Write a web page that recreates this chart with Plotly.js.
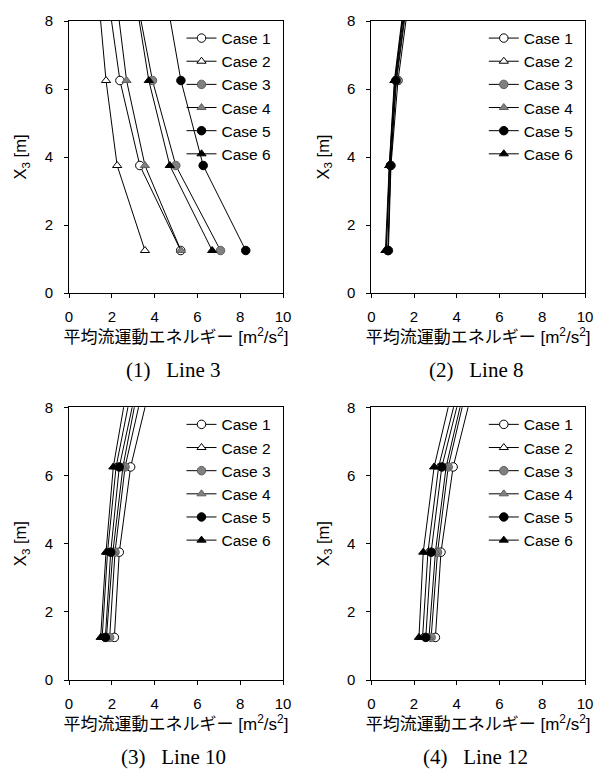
<!DOCTYPE html>
<html>
<head>
<meta charset="utf-8">
<script src="https://cdn.plot.ly/plotly-3.0.1.min.js"></script>
<style>html,body{margin:0;padding:0;background:#fff;}#chart{width:596px;height:769px;}</style>
</head>
<body>
<div id="chart"></div>
<script>
// Heights of measurement points [m] (last point lies above the visible range)
const HEIGHTS = [1.25, 3.75, 6.25, 8.75];
const CASE_NAMES = ['Case 1', 'Case 2', 'Case 3', 'Case 4', 'Case 5', 'Case 6'];
const PANEL_CAPTIONS = ['(1)\u00a0\u00a0\u00a0Line 3', '(2)\u00a0\u00a0\u00a0Line 8', '(3)\u00a0\u00a0\u00a0Line 10', '(4)\u00a0\u00a0\u00a0Line 12'];
const X_TICKS = [0, 2, 4, 6, 8, 10];
const Y_TICKS = [0, 2, 4, 6, 8];

// Mean-flow kinetic energy [m2/s2] per case, at HEIGHTS
const LINE3 = [
  [5.22, 3.31, 2.38, 1.82],
  [3.55, 2.25, 1.73, 1.37],
  [7.08, 4.99, 3.90, 3.14],
  [5.23, 3.55, 2.69, 2.20],
  [8.26, 6.27, 5.23, 4.53],
  [6.69, 4.71, 3.73, 3.09]
];
const LINE8 = [
  [0.80, 0.92, 1.25, 1.78],
  [0.70, 0.85, 1.10, 1.60],
  [0.78, 0.90, 1.18, 1.71],
  [0.70, 0.86, 1.12, 1.63],
  [0.78, 0.90, 1.15, 1.68],
  [0.66, 0.84, 1.08, 1.57]
];
const LINE10 = [
  [2.12, 2.35, 2.88, 3.84],
  [1.55, 1.80, 2.20, 2.99],
  [1.90, 2.15, 2.62, 3.52],
  [1.75, 2.05, 2.52, 3.28],
  [1.70, 1.95, 2.35, 3.21],
  [1.48, 1.73, 2.07, 2.76]
];
const LINE12 = [
  [3.00, 3.26, 3.83, 4.83],
  [2.40, 2.65, 3.15, 4.15],
  [2.80, 3.10, 3.60, 4.53],
  [2.70, 3.00, 3.50, 4.43],
  [2.55, 2.80, 3.30, 4.30],
  [2.23, 2.43, 2.94, 3.88]
];
const PANELS = [LINE3, LINE8, LINE10, LINE12];

// styles
const W = 596, H = 769;
const SANS = 'Liberation Sans, Arial, Noto Sans CJK JP, sans-serif';
const SERIF = 'Liberation Serif, Times New Roman, serif';
const MARKERS = [
  {symbol: 'circle', color: '#ffffff', line: {color: '#000000', width: 1}, size: 8.5},
  {symbol: 'triangle-up', color: '#ffffff', line: {color: '#000000', width: 1}, size: 8},
  {symbol: 'circle', color: '#808080', line: {color: '#606060', width: 1}, size: 8.5},
  {symbol: 'triangle-up', color: '#808080', line: {color: '#606060', width: 1}, size: 8},
  {symbol: 'circle', color: '#000000', line: {color: '#000000', width: 1}, size: 8.5},
  {symbol: 'triangle-up', color: '#000000', line: {color: '#000000', width: 1}, size: 8}
];
// plot boxes in pixels: [left, right, top, bottom]
const BOXES = [
  [69, 283, 21, 293],
  [371.3, 585, 21, 293],
  [69, 283, 407.3, 680],
  [371.3, 585, 407.3, 680]
];

const traces = [];
const layout = {
  width: W, height: H,
  margin: {l: 0, r: 0, t: 0, b: 0},
  paper_bgcolor: '#ffffff', plot_bgcolor: '#ffffff',
  showlegend: true,
  font: {family: SANS, color: '#000000', size: 15},
  annotations: []
};

PANELS.forEach((panel, p) => {
  const sfx = p === 0 ? '' : String(p + 1);
  const legendName = 'legend' + sfx;
  panel.forEach((vals, c) => {
    traces.push({
      type: 'scatter', mode: 'lines+markers',
      x: vals, y: HEIGHTS, name: CASE_NAMES[c],
      xaxis: 'x' + sfx, yaxis: 'y' + sfx,
      legend: legendName,
      line: {color: '#000000', width: 1},
      marker: MARKERS[c],
      hoverinfo: 'x+y+name'
    });
  });
  const b = BOXES[p];
  const axCommon = {
    showline: true, mirror: true, linecolor: '#000000', linewidth: 1,
    showgrid: false, zeroline: false, ticks: 'outside', ticklen: 4,
    tickcolor: '#000000', tickwidth: 1,
    tickfont: {family: SANS, size: 15, color: '#000000'},
    automargin: false, fixedrange: true
  };
  layout['xaxis' + sfx] = Object.assign({}, axCommon, {
    domain: [b[0] / W, b[1] / W], anchor: 'y' + sfx,
    range: [0, 10], tickvals: X_TICKS, ticktext: X_TICKS.map(String),
    ticklabelstandoff: 6,
    title: {text: '平均流運動エネルギー [m<sup>2</sup>/s<sup>2</sup>]', font: {family: SANS, size: 17, color: '#000000'}, standoff: 4}
  });
  layout['yaxis' + sfx] = Object.assign({}, axCommon, {
    domain: [1 - b[3] / H, 1 - b[2] / H], anchor: 'x' + sfx,
    range: [0, 8], tickvals: Y_TICKS, ticktext: Y_TICKS.map(String),
    ticklabelstandoff: 8,
    title: {text: 'X<sub>3</sub> [m]', font: {family: SANS, size: 16.5, color: '#000000'}, standoff: 13}
  });
  layout[legendName] = {
    x: (b[0] + 112.5) / W, y: 1 - (b[2] + 0.5) / H,
    xanchor: 'left', yanchor: 'top',
    bgcolor: 'rgba(0,0,0,0)', borderwidth: 0,
    font: {family: SANS, size: 15.5, color: '#000000'},
    itemwidth: 30
  };
  layout.annotations.push({
    xref: 'paper', yref: 'paper',
    x: ((b[0] + b[1]) / 2 - 2.6) / W, y: 1 - (b[3] + 77) / H,
    xanchor: 'center', yanchor: 'middle', showarrow: false,
    text: PANEL_CAPTIONS[p],
    font: {family: SERIF, size: 21, color: '#000000'}
  });
});

Plotly.newPlot('chart', traces, layout, {displayModeBar: false});
</script>
</body>
</html>
